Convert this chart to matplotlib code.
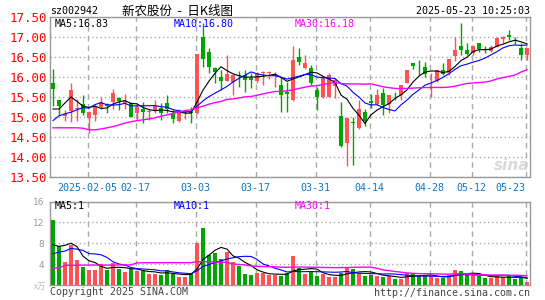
import numpy as np
import pandas as pd
import matplotlib
matplotlib.use('Agg')
import matplotlib.pyplot as plt

# ---------------- data ----------------
opens = [15.85, 15.42, 15.02, 15.16, 15.20, 15.32, 14.97, 15.04, 15.26, 15.32,
         15.38, 15.48, 15.34, 15.34, 15.09, 15.19, 15.12, 15.18, 15.22, 15.34,
         15.08, 14.90, 15.10, 15.12, 15.11, 17.01, 16.63, 16.22, 16.01, 15.91,
         15.88, 16.06, 16.05, 15.97, 15.91, 16.09, 16.10, 16.05, 15.80, 15.63,
         15.43, 16.51, 16.22, 16.22, 15.67, 15.49, 15.51, 15.78, 15.03, 14.36,
         14.88, 14.72, 15.12, 15.41, 15.33, 15.61, 15.33, 15.58, 15.55, 15.86,
         16.34, 16.31, 16.24, 15.92, 15.89, 16.17, 16.10, 16.52, 16.77, 16.67,
         16.60, 16.85, 16.70, 16.66, 16.75, 16.96, 17.06, 16.93, 16.72, 16.54]
highs = [16.20, 15.43, 15.18, 15.86, 15.45, 15.55, 15.14, 15.30, 15.49, 15.35,
         15.69, 15.51, 15.57, 15.38, 15.30, 15.38, 15.19, 15.42, 15.34, 15.55,
         15.17, 15.19, 15.18, 15.26, 16.58, 17.36, 16.72, 16.25, 16.17, 16.55,
         16.07, 16.15, 16.17, 16.09, 16.12, 16.14, 16.15, 16.13, 15.99, 15.88,
         16.78, 16.72, 16.55, 16.30, 15.76, 16.00, 16.09, 15.97, 15.38, 14.98,
         15.00, 15.43, 15.20, 15.57, 15.69, 15.72, 15.56, 15.63, 15.81, 16.18,
         16.36, 16.42, 16.37, 16.11, 16.18, 16.34, 16.46, 16.99, 17.35, 16.85,
         16.79, 16.86, 16.77, 16.79, 16.99, 17.02, 17.18, 16.99, 16.85, 16.73]
lows = [15.28, 15.05, 14.90, 14.88, 14.90, 15.05, 14.60, 14.91, 15.20, 15.10,
        15.19, 15.17, 15.19, 15.00, 14.93, 14.84, 14.92, 15.10, 14.92, 15.09,
        14.84, 14.88, 14.95, 14.84, 15.08, 16.26, 16.09, 15.84, 15.67, 15.90,
        15.56, 15.75, 15.63, 15.72, 15.85, 15.80, 15.95, 15.75, 15.13, 15.13,
        15.40, 16.30, 16.20, 15.80, 15.18, 15.48, 15.50, 15.47, 14.26, 13.78,
        13.80, 14.70, 14.78, 15.22, 15.30, 15.05, 15.11, 15.42, 15.42, 15.85,
        16.20, 16.05, 16.01, 15.51, 15.88, 16.05, 16.06, 16.41, 16.56, 16.56,
        16.55, 16.62, 16.60, 16.62, 16.74, 16.85, 16.92, 16.82, 16.43, 16.43]
closes = [15.70, 15.28, 15.08, 15.67, 15.22, 15.10, 15.13, 15.24, 15.38, 15.28,
          15.59, 15.40, 15.41, 15.01, 15.24, 15.13, 15.14, 15.27, 15.09, 15.19,
          14.95, 15.13, 15.12, 15.10, 16.57, 16.44, 16.25, 16.12, 15.91, 16.07,
          16.05, 16.02, 15.92, 15.93, 16.09, 16.13, 16.12, 16.08, 15.55, 15.58,
          16.42, 16.38, 16.36, 15.86, 15.49, 15.99, 16.05, 15.93, 14.28, 14.97,
          14.85, 15.19, 14.90, 15.36, 15.55, 15.30, 15.55, 15.57, 15.80, 16.17,
          16.28, 16.29, 16.08, 15.93, 16.17, 16.08, 16.45, 16.68, 16.68, 16.58,
          16.78, 16.70, 16.67, 16.75, 16.98, 17.00, 16.99, 16.89, 16.54, 16.72]
volumes = [12.5, 7.4, 4.5, 7.7, 4.7, 3.4, 2.9, 2.8, 4.1, 2.8,
           4.2, 3.1, 2.4, 3.1, 2.6, 2.7, 2.1, 2.1, 2.0, 2.8,
           2.1, 1.5, 1.5, 2.3, 8.0, 11.0, 5.8, 6.2, 5.0, 6.4,
           4.5, 3.6, 2.2, 2.0, 2.3, 2.3, 2.0, 1.85, 1.8, 2.3,
           5.5, 3.3, 2.2, 2.4, 1.8, 2.1, 1.5, 1.5, 2.3, 3.3,
           3.1, 2.3, 1.8, 2.0, 1.8, 1.5, 1.7, 1.15, 1.15, 2.3,
           2.3, 1.7, 1.7, 1.7, 1.3, 1.3, 2.0, 2.9, 2.7, 2.0,
           1.7, 1.7, 1.3, 1.3, 1.7, 1.5, 1.7, 1.15, 1.5, 0.5]
# closes / volumes of the sessions just before the window (inferred from the
# starting values of the MA5/MA10 lines)
prev_closes = [14.08, 14.58, 15.27, 14.62, 14.55, 15.28, 14.33, 14.92, 15.77]
prev_volumes = [4.4, 2.5, 2.7, 6.0, 5.9, 8.9, 3.5, 5.7, 7.9]
# MA30 values for the first 29 sessions
ma30_head = [14.73, 14.73, 14.73, 14.73, 14.73, 14.72, 14.68, 14.68, 14.70, 14.73,
             14.76, 14.80, 14.85, 14.88, 14.91, 14.93, 14.95, 14.98, 15.02, 15.05,
             15.09, 15.12, 15.16, 15.18, 15.23, 15.27, 15.32, 15.36, 15.39]
vol_ma30_head = [3.25, 3.3, 3.75, 3.78, 3.8, 3.8, 3.82, 3.82, 3.8, 3.8,
                 3.82, 3.85, 3.85, 3.85, 4.25, 4.27, 4.27, 4.27, 4.27, 4.28,
                 4.28, 4.28, 4.28, 4.28, 4.45, 4.5, 4.45, 4.4, 4.35]
tick_idx = [6, 14, 24, 34, 44, 53, 63, 70, 79]
tick_labels = ['2025-02-05', '02-17', '03-03', '03-17', '03-31',
               '04-14', '04-28', '05-12', '05-23']
price_ticks = [13.5, 14.0, 14.5, 15.0, 15.5, 16.0, 16.5, 17.0, 17.5]
vol_ticks = [4, 8, 12, 16]

# ---------------- derived ----------------
n = len(closes)
x = np.arange(n)
o = np.array(opens); h = np.array(highs); l = np.array(lows); c = np.array(closes)
v = np.array(volumes)
np_ = len(prev_closes)
ma5 = pd.Series(prev_closes + closes).rolling(5).mean().values[np_:]
ma10 = pd.Series(prev_closes + closes).rolling(10).mean().values[np_:]
ma30 = pd.Series(closes).rolling(30).mean().values
ma30[:len(ma30_head)] = ma30_head
vma5 = pd.Series(prev_volumes + volumes).rolling(5).mean().values[len(prev_volumes):]
vma10 = pd.Series(prev_volumes + volumes).rolling(10).mean().values[len(prev_volumes):]
vma30 = pd.Series(volumes).rolling(30).mean().values
vma30[:len(vol_ma30_head)] = vol_ma30_head

RED = '#FF5252'
GREEN = '#00A600'
up = c >= o
cols = np.where(up, RED, GREEN)

W, H = 545, 300
fig = plt.figure(figsize=(W / 100, H / 100), dpi=100)
fig.patch.set_facecolor('white')

def fx(px):
    return px / W

def fy(py):
    return 1 - py / H

mono = 'DejaVu Sans Mono'
cjk = ['Noto Sans CJK SC', 'DejaVu Sans']
ax1 = fig.add_axes([fx(50), fy(177), fx(480), 160 / H])
ax2 = fig.add_axes([fx(50), fy(285), fx(480), 83.5 / H])

grid_x = [t - 0.25 for t in tick_idx]
for ax in (ax1, ax2):
    ax.set_xlim(-0.5, n - 0.5)
    for s in ax.spines.values():
        s.set_color('#999999')
        s.set_linewidth(1.0)
    ax.set_xticks(grid_x)
    ax.grid(axis='x', color='#AAAAAA', linestyle=(0, (4, 3)), linewidth=1.0)
    ax.grid(axis='y', color='#AAAAAA', linestyle=(0, (1, 2)), linewidth=1.0)
    ax.set_axisbelow(True)
    ax.tick_params(length=0)

# ---- candles ----
ax1.set_ylim(price_ticks[0], price_ticks[-1])
ax1.vlines(x, l, h, colors=cols, linewidth=1.0, zorder=3)
body_lo = np.minimum(o, c)
body_h = np.maximum(np.abs(c - o), 0.012)
ax1.bar(x, body_h, bottom=body_lo, width=0.78, color=cols, linewidth=0, zorder=4)
ax1.plot(x, ma5, color='black', lw=0.8, zorder=5)
ax1.plot(x, ma10, color='#0000FF', lw=0.8, zorder=5)
ax1.plot(x, ma30, color='#FF00FF', lw=1.0, zorder=5)
ax1.set_yticks(price_ticks)
ax1.set_yticklabels(['%.2f' % p for p in price_ticks], fontfamily=mono,
                    fontsize=9, color='#FF0000')
ax1.tick_params(axis='y', pad=2)
xt = ax1.set_xticklabels(tick_labels, fontfamily=mono, fontsize=7.2, color='#0A78C8')
xt[-1].set_horizontalalignment('right')
ax1.tick_params(axis='x', pad=4)

# ---- volume ----
ax2.set_ylim(0, 16)
ax2.bar(x, v, width=0.78, color=cols, linewidth=0, zorder=3)
ax2.plot(x, vma5, color='black', lw=0.8, zorder=5)
ax2.plot(x, vma10, color='#0000FF', lw=0.8, zorder=5)
ax2.plot(x, vma30, color='#FF00FF', lw=1.0, zorder=5)
ax2.set_yticks(vol_ticks)
ax2.set_yticklabels([str(t) for t in vol_ticks], fontsize=6.5, color='#999999')
ax2.tick_params(axis='y', pad=4)
ax2.set_xticklabels([])

# ---- texts ----
fig.text(fx(50), fy(11), 'sz002942', fontfamily=mono, fontsize=7.2,
         color='black', va='center', ha='left')
fig.text(fx(178), fy(11), '新农股份  -  日K线图', fontfamily=cjk,
         fontsize=9, color='black', va='center', ha='center')
fig.text(fx(530), fy(11), '2025-05-23 10:25:03', fontfamily=mono, fontsize=7.2,
         color='black', va='center', ha='right')

fig.text(fx(55), fy(24), 'MA5:%.2f' % ma5[-1], fontfamily=mono, fontsize=7.2,
         color='black', va='center', ha='left')
fig.text(fx(174), fy(24), 'MA10:%.2f' % ma10[-1], fontfamily=mono, fontsize=7.2,
         color='#0000FF', va='center', ha='left')
fig.text(fx(295), fy(24), 'MA30:%.2f' % ma30[-1], fontfamily=mono, fontsize=7.2,
         color='#FF00FF', va='center', ha='left')

fig.text(fx(55), fy(206), 'MA5:1', fontfamily=mono, fontsize=7.2,
         color='black', va='center', ha='left')
fig.text(fx(174), fy(206), 'MA10:1', fontfamily=mono, fontsize=7.2,
         color='#0000FF', va='center', ha='left')
fig.text(fx(295), fy(206), 'MA30:1', fontfamily=mono, fontsize=7.2,
         color='#FF00FF', va='center', ha='left')

fig.text(fx(46), fy(286), 'x万', fontfamily=cjk,
         fontsize=6, color='#BBBBBB', va='center', ha='right', style='italic')
fig.text(fx(50), fy(292), 'Copyright 2025 SINA.COM', fontfamily=mono, fontsize=7.2,
         color='#444444', va='center', ha='left')
fig.text(fx(530), fy(293), 'http://finance.sina.com.cn', fontfamily=mono, fontsize=7.2,
         color='#444444', va='center', ha='right')
fig.text(fx(512), fy(166), 'sina', fontsize=11, fontweight='bold', style='italic',
         color='#D0D0D0', va='center', ha='center', alpha=0.8)

fig.savefig('out.png', dpi=100, facecolor='white')
